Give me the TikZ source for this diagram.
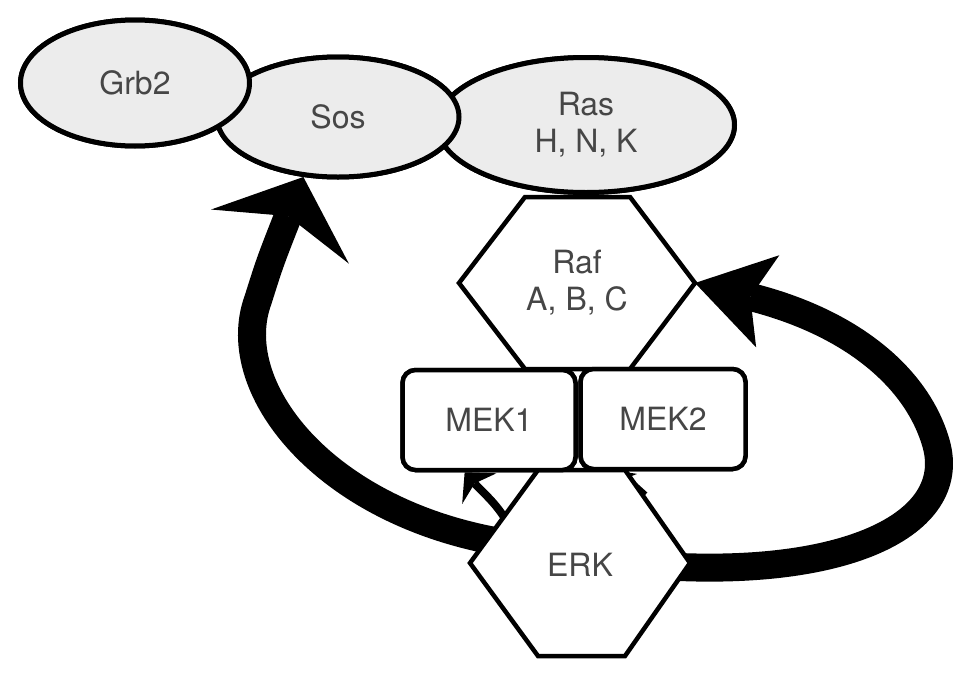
\documentclass[tikz,border=0pt]{standalone}
\usepackage{fontspec}
\setmainfont{TeX Gyre Heros}
\usetikzlibrary{arrows.meta,shapes.geometric}

\definecolor{labelgray}{RGB}{70,70,70}
\definecolor{shellgray}{RGB}{236,236,236}

\tikzset{
  labeltext/.style={text=labelgray, font=\fontsize{32}{37}\selectfont, align=center},
  protein/.style={ellipse, draw, line width=5pt, fill=shellgray, inner sep=0pt, labeltext},
  kinase/.style={rectangle, rounded corners=13pt, draw, line width=4.5pt, fill=white, inner sep=0pt, labeltext},
  hexa/.style={draw, line width=4.5pt, fill=white, line join=miter},
  bigloop/.style={line width=28pt},
  smallloop/.style={line width=8pt}
}

\begin{document}
\begin{tikzpicture}[x=1pt, y=-1pt]
      \useasboundingbox (0,0) rectangle (969,672);
      % hexagon corners
      \coordinate (raf-w) at (459,283);
      \coordinate (raf-nw) at (525,197);
      \coordinate (raf-ne) at (630,197);
      \coordinate (raf-e) at (695,283);
      \coordinate (raf-se) at (630,369);
      \coordinate (raf-sw) at (525,369);
      \coordinate (erk-w) at (470,563);
      \coordinate (erk-nw) at (538,470);
      \coordinate (erk-ne) at (625,470);
      \coordinate (erk-e) at (690,563);
      \coordinate (erk-se) at (625,656);
      \coordinate (erk-sw) at (538,656);
      % loop ends hidden inside ERK
      \coordinate (erk-left) at (520,545);
      \coordinate (erk-right) at (660,566);
      \coordinate (erk-in) at (515,540);
      \coordinate (erk-out) at (646,494);

      \node [protein, minimum width=297pt, minimum height=135pt] (ras) at (586,125) {Ras\\H, N, K};
      \node [protein, minimum width=242pt, minimum height=120pt] (sos) at (338,117) {Sos};
      \node [protein, minimum width=229pt, minimum height=126pt] (grb2) at (135,83) {Grb2};
      \node [kinase, minimum width=173pt, minimum height=100pt] (mek1) at (489,420) {MEK1};
      \node [kinase, minimum width=165pt, minimum height=100pt] (mek2) at (663,419) {MEK2};

      % feedback loops, under the hexagons
      \draw [bigloop, -{Stealth[length=64pt, width=148pt, inset=22pt, line width=0pt]}]
        (erk-left) .. controls (330,520) and (225,390) .. (258,300) .. controls (270,262) .. (sos.-120);
      \draw [bigloop, -{Stealth[length=75pt, width=95pt, inset=18pt, line width=0pt]}]
        (erk-right) .. controls (850,578) and (962,522) .. (935,440) .. controls (915,376) and (850,322) .. (raf-e);
      \draw [smallloop, -{Stealth[length=22pt, width=46pt, inset=7pt, line width=0pt]}]
        (erk-in) .. controls (505,510) and (485,495) .. (mek1.-115);
      \draw [line width=4pt, -{Stealth[length=14pt, width=18pt, line width=0pt]}] (erk-out) -- (mek2.-129);

      \draw [hexa] (raf-w) -- (raf-nw) -- (raf-ne) -- (raf-e) -- (raf-se) -- (raf-sw) -- cycle;
      \node [labeltext] (raf) at (577,283) {Raf\\A, B, C};
      \draw [hexa] (erk-w) -- (erk-nw) -- (erk-ne) -- (erk-e) -- (erk-se) -- (erk-sw) -- cycle;
      \node [labeltext] (erk) at (580,565) {ERK};

      % redraw on top
      \node [protein, minimum width=297pt, minimum height=135pt] at (586,125) {Ras\\H, N, K};
      \node [protein, minimum width=242pt, minimum height=120pt] at (338,117) {Sos};
      \node [protein, minimum width=229pt, minimum height=126pt] at (135,83) {Grb2};
      \node [kinase, minimum width=173pt, minimum height=100pt] at (489,420) {MEK1};
      \node [kinase, minimum width=165pt, minimum height=100pt] at (663,419) {MEK2};
    \end{tikzpicture}
\end{document}
